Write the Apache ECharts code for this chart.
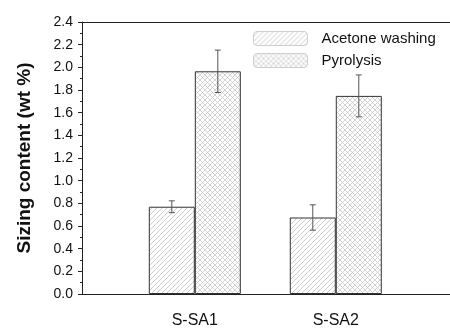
<!DOCTYPE html>
<html>
<head>
<meta charset="utf-8">
<script src="https://cdn.jsdelivr.net/npm/echarts@6/dist/echarts.min.js"></script>
<style>
html,body{margin:0;padding:0;background:#fff;}
#chart{width:450px;height:329px;}
</style>
</head>
<body>
<div id="chart"></div>
<script>
// data
var categories = ['S-SA1', 'S-SA2'];
var catPos = [1, 2];
var acetone = [0.77, 0.675];
var acetoneErr = [0.052, 0.112];
var pyrolysis = [1.965, 1.748];
var pyrolysisErr = [0.187, 0.185];

/* hatch patterns */
function diagPattern(){
	var s = 5;
	var c = document.createElement('canvas');
	c.width = s; c.height = s;
	var ctx = c.getContext('2d');
	ctx.fillStyle = '#fff';
	ctx.fillRect(0, 0, s, s);
	ctx.strokeStyle = '#cdcdcd';
	ctx.lineWidth = 1;
	[-s, 0, s].forEach(function(o){
		ctx.beginPath();
		ctx.moveTo(o, s);
		ctx.lineTo(o + s, 0);
		ctx.stroke();
	});
	return c;
}
function crossPattern(){
	var s = 5;
	var c = document.createElement('canvas');
	c.width = s; c.height = s;
	var ctx = c.getContext('2d');
	ctx.fillStyle = '#fff';
	ctx.fillRect(0, 0, s, s);
	ctx.strokeStyle = '#c8c8c8';
	ctx.lineWidth = 0.8;
	[-s, 0, s].forEach(function(o){
		ctx.beginPath();
		ctx.moveTo(o, s);
		ctx.lineTo(o + s, 0);
		ctx.stroke();
		ctx.beginPath();
		ctx.moveTo(o, 0);
		ctx.lineTo(o + s, s);
		ctx.stroke();
	});
	return c;
}

var barW = 46;
var errData = [];
for (var i = 0; i < categories.length; i++) {
	errData.push([catPos[i], acetone[i], acetoneErr[i], -barW / 2]);
	errData.push([catPos[i], pyrolysis[i], pyrolysisErr[i], barW / 2]);
}

var font = 'Arial, "Liberation Sans", sans-serif';
var mychart = echarts.init(document.getElementById('chart'));
var option = {
	animation: false,
	grid: {
		left: 82,
		right: 0,
		top: 22,
		bottom: 30
	},
	legend: {
		data: ['Acetone washing', 'Pyrolysis'],
		orient: 'vertical',
		left: 253,
		top: 31,
		padding: 0,
		itemWidth: 54,
		itemHeight: 14,
		itemGap: 7,
		itemStyle: {
			borderColor: '#cfcfcf',
			borderWidth: 1
		},
		textStyle: {
			fontFamily: font,
			fontSize: 15,
			color: '#111',
			padding: [0, 0, 0, 9]
		}
	},
	xAxis: [{
		type: 'value',
		min: 0.2,
		max: 2.81,
		axisLine: { show: true, lineStyle: { color: '#222', width: 1 } },
		axisTick: { show: false },
		splitLine: { show: false },
		axisLabel: {
			customValues: catPos,
			formatter: function(v){
				var idx = catPos.indexOf(v);
				return idx >= 0 ? categories[idx] : '';
			},
			fontFamily: font,
			fontSize: 16,
			color: '#111',
			margin: 19
		}
	}, {
		// top frame line
		type: 'value',
		position: 'top',
		min: 0.2,
		max: 2.81,
		axisLine: { show: true, lineStyle: { color: '#222', width: 1 } },
		axisTick: { show: false },
		axisLabel: { show: false },
		splitLine: { show: false }
	}],
	yAxis: {
		type: 'value',
		min: 0,
		max: 2.4,
		interval: 0.2,
		name: 'Sizing content (wt %)',
		nameLocation: 'middle',
		nameGap: 48,
		nameTextStyle: {
			fontFamily: font,
			fontSize: 19,
			fontWeight: 'bold',
			color: '#111'
		},
		axisLine: { show: true, lineStyle: { color: '#222', width: 1 } },
		axisTick: { show: true, length: 4, lineStyle: { color: '#222' } },
		minorTick: { show: true, splitNumber: 2, length: 2, lineStyle: { color: '#222' } },
		splitLine: { show: false },
		axisLabel: {
			fontFamily: font,
			fontSize: 14,
			color: '#111',
			margin: 9,
			formatter: function(v){ return v.toFixed(1); }
		}
	},
	series: [{
		name: 'Acetone washing',
		type: 'bar',
		barWidth: barW,
		barGap: '0%',
		data: catPos.map(function(p, i){ return [p, acetone[i]]; }),
		itemStyle: {
			color: { image: diagPattern(), repeat: 'repeat' },
			borderColor: '#333',
			borderWidth: 1
		}
	}, {
		name: 'Pyrolysis',
		type: 'bar',
		barWidth: barW,
		barGap: '0%',
		data: catPos.map(function(p, i){ return [p, pyrolysis[i]]; }),
		itemStyle: {
			color: { image: crossPattern(), repeat: 'repeat' },
			borderColor: '#333',
			borderWidth: 1
		}
	}, {
		type: 'custom',
		name: 'err',
		z: 10,
		data: errData,
		renderItem: function(params, api){
			var x = api.value(0), y = api.value(1), e = api.value(2), off = api.value(3);
			var top = api.coord([x, y + e]);
			var bot = api.coord([x, y - e]);
			var cx = top[0] + off;
			var cap = 3;
			var st = { stroke: '#555', lineWidth: 1 };
			return {
				type: 'group',
				children: [
					{ type: 'line', shape: { x1: cx, y1: top[1], x2: cx, y2: bot[1] }, style: st },
					{ type: 'line', shape: { x1: cx - cap, y1: top[1], x2: cx + cap, y2: top[1] }, style: st },
					{ type: 'line', shape: { x1: cx - cap, y1: bot[1], x2: cx + cap, y2: bot[1] }, style: st }
				]
			};
		}
	}]
};
mychart.setOption(option);
</script>
</body>
</html>
